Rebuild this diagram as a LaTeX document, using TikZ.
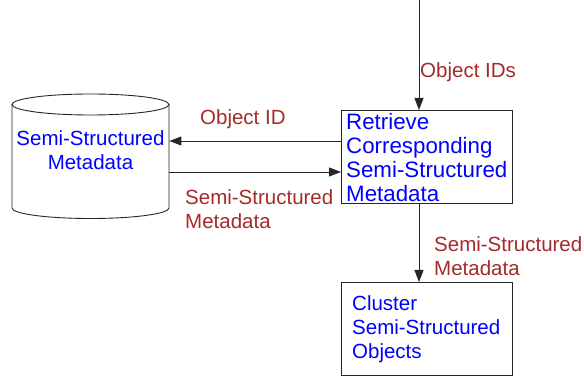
\documentclass[tikz,border=0pt]{standalone}
\usepackage{fontspec}
\setmainfont{Liberation Sans}
\usetikzlibrary{arrows.meta}
\definecolor{lblred}{RGB}{165,42,42}
\definecolor{txtblue}{RGB}{0,0,255}
\begin{document}
\begin{tikzpicture}[x=1pt,y=-1pt,
 box/.style={draw=black!85, line width=0.9pt, minimum width=171pt, minimum height=93pt, anchor=north west, inner sep=0},
 arr/.style={draw=black!85, line width=0.9pt, -{Triangle[length=12pt,width=9pt]}},
 lbl/.style={text=lblred, font=\fontsize{20.5}{24}\selectfont, align=left, anchor=west, inner sep=0},
 btxt/.style={text=txtblue, font=\fontsize{20.5}{24}\selectfont, align=left, inner sep=0, anchor=west}]
\useasboundingbox (0,0) rectangle (584,382);
% cylinder
\node[inner sep=0, minimum width=157pt, minimum height=124pt, anchor=north west] (db) at (12,94) {};
\draw[draw=black!85, line width=0.9pt] (90.5,104.5) ellipse [x radius=78.5, y radius=10.5];
\draw[draw=black!85, line width=0.9pt] (12,104.5) -- (12,208) arc[start angle=180, end angle=360, x radius=78.5, y radius=-10.5] -- (169,104.5);
\node[btxt, align=center, anchor=center] (dbt) at (90.5,150) {Semi-Structured\\Metadata};
% boxes
\node[box] (ret) at (341,110) {};
\node[btxt, font=\fontsize{22.3}{24}\selectfont] (rett) at (346,158) {Retrieve\\Corresponding\\Semi-Structured\\Metadata};
\node[box] (clu) at (341,282) {};
\node[btxt] (clut) at (352,329) {Cluster\\Semi-Structured\\Objects};
% connectors
\coordinate (top) at (419,0);
\draw[arr] (top) -- (top |- ret.north);
\draw[arr] (top |- ret.south) -- (top |- clu.north);
\draw[arr] (ret.west |- 0,141) -- (db.east |- 0,141);
\draw[arr] (db.east |- 0,172) -- (ret.west |- 0,172);
% labels
\node[lbl] (l1) at (420,72) {Object IDs};
\node[lbl] (l2) at (200,119) {Object ID};
\node[lbl] (l3) at (185,209) {Semi-Structured\\Metadata};
\node[lbl] (l4) at (434,256) {Semi-Structured\\Metadata};
\end{tikzpicture}
\end{document}
